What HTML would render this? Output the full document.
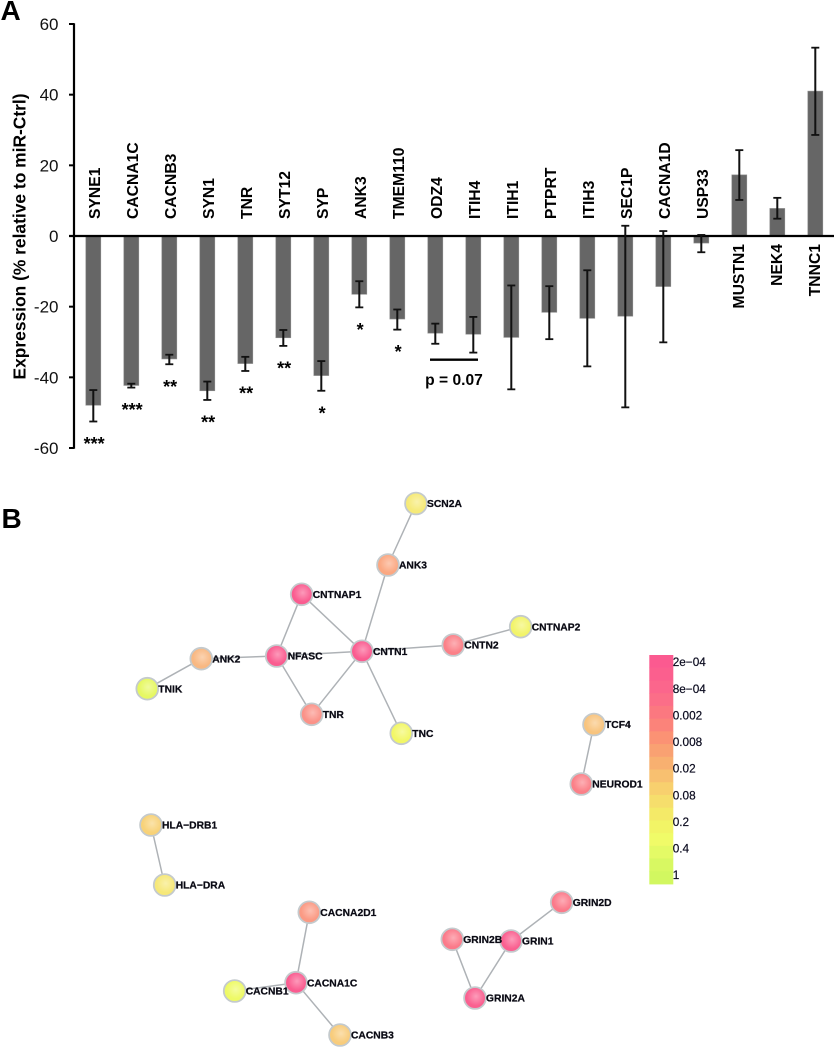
<!DOCTYPE html>
<html lang="en">
<head>
<meta charset="utf-8">
<title>Expression bar chart and gene network</title>
<style>
  html, body { margin: 0; padding: 0; background: #fff; }
  body { width: 834px; height: 1050px; overflow: hidden; }
  svg { display: block; font-family: "Liberation Sans", Arial, sans-serif; filter: blur(0.35px); }
</style>
</head>
<body>
<svg id="figure" width="834" height="1050" viewBox="0 0 834 1050" xmlns="http://www.w3.org/2000/svg">
  <defs id="gradients"></defs>
  <text x="0.5" y="20" font-size="28" font-weight="700" fill="#000">A</text>
  <text x="1.5" y="528" font-size="28" font-weight="700" fill="#000">B</text>
  <g id="chart"></g>
  <text transform="translate(25.5 236.5) rotate(-90)" text-anchor="middle" font-size="17.4" font-weight="700" fill="#000">Expression (% relative to miR-Ctrl)</text>
  <line x1="430" x2="478" y1="359.7" y2="359.7" stroke="#000" stroke-width="2.4"/>
  <text x="454" y="385" text-anchor="middle" font-size="15.6" font-weight="700" fill="#000">p = 0.07</text>
  <g id="network"></g>
  <g id="colorbar"></g>
</svg>
<script>
// ---------- bar chart data ----------
const categories = ['SYNE1','CACNA1C','CACNB3','SYN1','TNR','SYT12','SYP','ANK3','TMEM110','ODZ4','ITIH4','ITIH1','PTPRT','ITIH3','SEC1P','CACNA1D','USP33','MUSTN1','NEK4','TNNC1'];
const expression = [-47.9,-42.3,-34.8,-43.8,-36.1,-28.8,-39.5,-16.5,-23.5,-27.5,-27.8,-28.7,-21.6,-23.3,-22.7,-14.3,-2,17.3,7.8,41];
const errorHigh = [-43.6,-41.8,-33.6,-41.2,-34.2,-26.6,-35.4,-12.8,-20.8,-24.8,-22.9,-14,-14.2,-9.7,2.9,1.4,0.3,24.3,10.8,53.3];
const errorLow = [-52.5,-42.9,-36.3,-46.4,-38.2,-31.1,-43.8,-20.2,-26.5,-30.5,-33,-43.4,-29.2,-36.9,-48.5,-30.1,-4.6,10.2,4.9,28.6];
const significance = ['***','***','**','**','**','**','*','*','*','','','','','','','','','','',''];
const yTicks = [60,40,20,0,-20,-40,-60];

// ---------- network data ----------
const geneNodes = ['SCN2A','ANK3','CNTNAP1','NFASC','CNTN1','ANK2','TNIK','TNR','TNC','CNTN2','CNTNAP2','TCF4','NEUROD1','HLA\u2212DRB1','HLA\u2212DRA','CACNA2D1','CACNA1C','CACNB1','CACNB3','GRIN2D','GRIN2B','GRIN1','GRIN2A'];
const nodeColours = ['#f6ea78','#fba882','#fa5c90','#fa5c90','#fa5c90','#f8b882','#e6f862','#fb9288','#f2f766','#fb8088','#f2f46a','#f8c47e','#fb8088','#f8d278','#f6e878','#fb9a84','#fa5c90','#eefa66','#f8cc7c','#fb7a8a','#fb7a8a','#fa6090','#fa6090'];
const nodeLayoutX = [416,388,301.7,276.7,362,201.3,147.3,311.7,401.3,453.3,520.7,594,581.3,151,164.7,309.3,296,234.7,340,561.7,452.3,511,475];
const nodeLayoutY = [503.5,565,594.3,656,651.3,658.7,688.7,714.3,733.3,645,626.7,724.5,784,825,885,912.3,982.7,991,1035,902.3,939.3,941,998];
const edgeFrom = [0,1,2,2,3,3,4,4,4,9,5,6,11,13,15,16,16,19,20,21];
const edgeTo = [1,4,3,4,4,7,7,8,9,10,3,5,12,14,16,17,18,21,22,22];

// ---------- colour scale data ----------
const scaleLabels = ['2e\u221204','8e\u221204','0.002','0.008','0.02','0.08','0.2','0.4','1'];
const scaleColours = ['#fb5a90','#fb5f8e','#fb668c','#fb6e88','#fb7880','#fb837a','#fb9274','#f9a172','#f8b070','#f8c070','#f8d06e','#f6de6c','#f4ea68','#f2f466','#f0fb68','#e4fa66','#d8f862','#d2f760'];

// ---------- axis functions ----------
const yScale = v => 236 - v * 3.5333;
const xBand = i => 93.3 + i * 38;
const SVGNS = 'http://www.w3.org/2000/svg';
function make(parent, tag, attrs, text) {
  const el = document.createElementNS(SVGNS, tag);
  for (const k in attrs) el.setAttribute(k, attrs[k]);
  if (text !== undefined) el.textContent = text;
  parent.appendChild(el);
  return el;
}

const chart = document.getElementById('chart');

// bars (lighter halo edge, matching the soft edges of the reference)
categories.forEach((name, i) => {
  const top = Math.min(yScale(expression[i]), yScale(0));
  const h = Math.abs(yScale(expression[i]) - yScale(0));
  const bar = make(chart, 'rect', {x: xBand(i) - 7.5, y: top, width: 15, height: h, fill: '#666', stroke: '#8f8f8f', 'stroke-width': 0.6});
  
  
});

// axes
const yAxis = make(chart, 'line', {x1: 74, x2: 74, y1: yScale(60) - 0.8, y2: yScale(-60) + 0.8, stroke: '#000', 'stroke-width': 2.2});


const zeroLine = make(chart, 'line', {x1: 69, x2: 834, y1: yScale(0), y2: yScale(0), stroke: '#000', 'stroke-width': 2.2});



yTicks.forEach(t => {
  const tick = make(chart, 'line', {x1: 69, x2: 74, y1: yScale(t), y2: yScale(t), stroke: '#000', 'stroke-width': 2});
  
  
  const label = make(chart, 'text', {x: 58.5, y: yScale(t) + 6, 'text-anchor': 'end', 'font-size': 17, fill: '#111'}, String(t));
  
  
});

// error bars
categories.forEach((name, i) => {
  const x = xBand(i);
  const hi = yScale(errorHigh[i]);
  const lo = yScale(errorLow[i]);
  const stem = make(chart, 'line', {x1: x, x2: x, y1: hi, y2: lo, stroke: '#111', 'stroke-width': 2});
  
  
  const capHi = make(chart, 'line', {x1: x - 4, x2: x + 4, y1: hi, y2: hi, stroke: '#111', 'stroke-width': 1.8});
  
  
  const capLo = make(chart, 'line', {x1: x - 4, x2: x + 4, y1: lo, y2: lo, stroke: '#111', 'stroke-width': 1.8});
  
  
});

// category labels and significance stars
categories.forEach((name, i) => {
  const negative = expression[i] < 0;
  const bx = xBand(i) + (negative ? 6.8 : 4.6);
  const by = negative ? 219 : 244;
  const anchor = negative ? 'start' : 'end';
  const label = make(chart, 'text', {transform: 'translate(' + bx + ' ' + by + ') rotate(-90)', 'text-anchor': anchor, 'font-size': 15.7, 'font-weight': 700, fill: '#000'}, name);
  
  
  if (significance[i]) {
    const star = make(chart, 'text', {x: xBand(i) + 0.8, y: yScale(errorLow[i]) + 28.5, 'text-anchor': 'middle', 'font-size': 18, 'font-weight': 700, fill: '#000'}, significance[i]);
    
    
  }
});

// ---------- network ----------
const network = document.getElementById('network');
const defs = document.getElementById('gradients');

edgeFrom.forEach((a, i) => {
  const b = edgeTo[i];
  const edge = make(network, 'line', {x1: nodeLayoutX[a], y1: nodeLayoutY[a], x2: nodeLayoutX[b], y2: nodeLayoutY[b], stroke: '#aeb2b6', 'stroke-width': 1.5});
  
  
});

geneNodes.forEach((name, i) => {
  const grad = make(defs, 'radialGradient', {id: 'node-grad-' + i, cx: '0.55', cy: '0.42', r: '0.62'});
  make(grad, 'stop', {offset: '0', 'stop-color': '#fff', 'stop-opacity': '0.38'});
  make(grad, 'stop', {offset: '0.75', 'stop-color': '#fff', 'stop-opacity': '0'});
  const node = make(network, 'circle', {cx: nodeLayoutX[i], cy: nodeLayoutY[i], r: 10.9, fill: nodeColours[i], stroke: '#c4cacd', 'stroke-width': 1.8});
  
  
  const shine = make(network, 'circle', {cx: nodeLayoutX[i], cy: nodeLayoutY[i], r: 10, fill: 'url(#node-grad-' + i + ')'});
  
  
});

// labels go above every node
geneNodes.forEach((name, i) => {
  const label = make(network, 'text', {x: nodeLayoutX[i] + 11, y: nodeLayoutY[i] + 3.6, 'font-size': 10.3, 'font-weight': 700, fill: '#0a0a14', stroke: '#0a0a14', 'stroke-width': 0.25});
  label.textContent = name;
  
  
});

// ---------- colour scale ----------
const colorbar = document.getElementById('colorbar');
const scaleTop = 655, scaleBottom = 884;
const stepH = (scaleBottom - scaleTop) / scaleColours.length;
scaleColours.forEach((c, i) => {
  const swatch = make(colorbar, 'rect', {x: 649.3, y: scaleTop + i * stepH, width: 24, height: stepH + 0.4, fill: c});
  
  
});
const labelStep = (875 - 662) / (scaleLabels.length - 1);
scaleLabels.forEach((t, i) => {
  const label = make(colorbar, 'text', {x: 672.7, y: 662 + i * labelStep + 4.2, 'font-size': 11.8, fill: '#0a0a1e', stroke: '#0a0a1e', 'stroke-width': 0.2}, t);
  
  
});
</script>
</body>
</html>
